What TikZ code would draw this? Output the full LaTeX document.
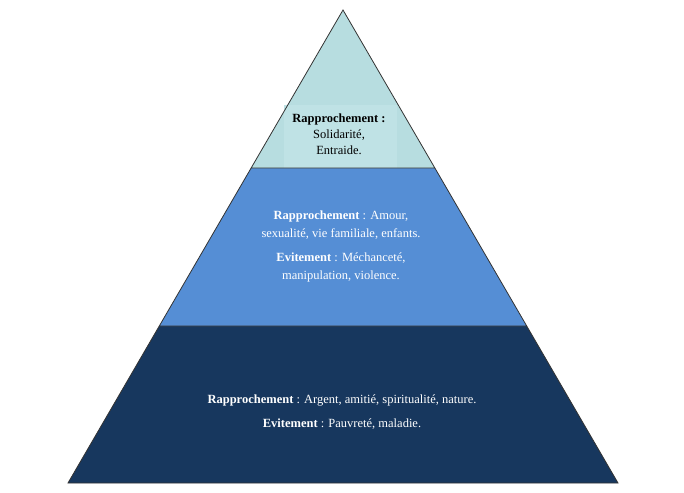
\documentclass[tikz,border=0pt]{standalone}
\usepackage{fontspec}
\setmainfont{Liberation Serif}
\definecolor{ctop}{HTML}{B7DDE0}
\definecolor{cbox}{HTML}{BFE2E5}
\definecolor{cmid}{HTML}{558ED5}
\definecolor{cbot}{HTML}{17375E}
\begin{document}
\begin{tikzpicture}[x=1pt,y=-1pt,
  band/.style={draw=black!80,line width=0.8pt},
  lbl/.style={align=center,font=\fontsize{12.5}{16}\selectfont}]
\useasboundingbox (0,0) rectangle (684,492);
\coordinate (A) at (343,10);
\coordinate (L1) at (251.1,168); \coordinate (R1) at (434.9,168);
\coordinate (L2) at (159.3,326); \coordinate (R2) at (526.7,326);
\coordinate (L3) at (68,483); \coordinate (R3) at (618,483);
\fill[cbot] (L2)--(R2)--(R3)--(L3)--cycle;
\fill[cmid] (L1)--(R1)--(R2)--(L2)--cycle;
\fill[ctop] (A)--(R1)--(L1)--cycle;
\fill[cbox] (284,105) rectangle (397,168);
\draw[band] (A)--(R3)--(L3)--cycle (L1)--(R1) (L2)--(R2);
\node[lbl] (t) at (339,134) {\textbf{Rapprochement :}\\Solidarité,\\Entraide.};
\node[lbl,text=white,font=\fontsize{12.5}{18}\selectfont] (m) at (341,246)
 {\textbf{Rapprochement} : Amour,\\sexualité, vie familiale, enfants.\\[6pt]\textbf{Evitement} : Méchanceté,\\manipulation, violence.};
\node[lbl,text=white,font=\fontsize{12.5}{18}\selectfont] (b) at (342,412)
 {\textbf{Rapprochement} : Argent, amitié, spiritualité, nature.\\[6pt]\textbf{Evitement} : Pauvreté, maladie.};
\end{tikzpicture}
\end{document}
